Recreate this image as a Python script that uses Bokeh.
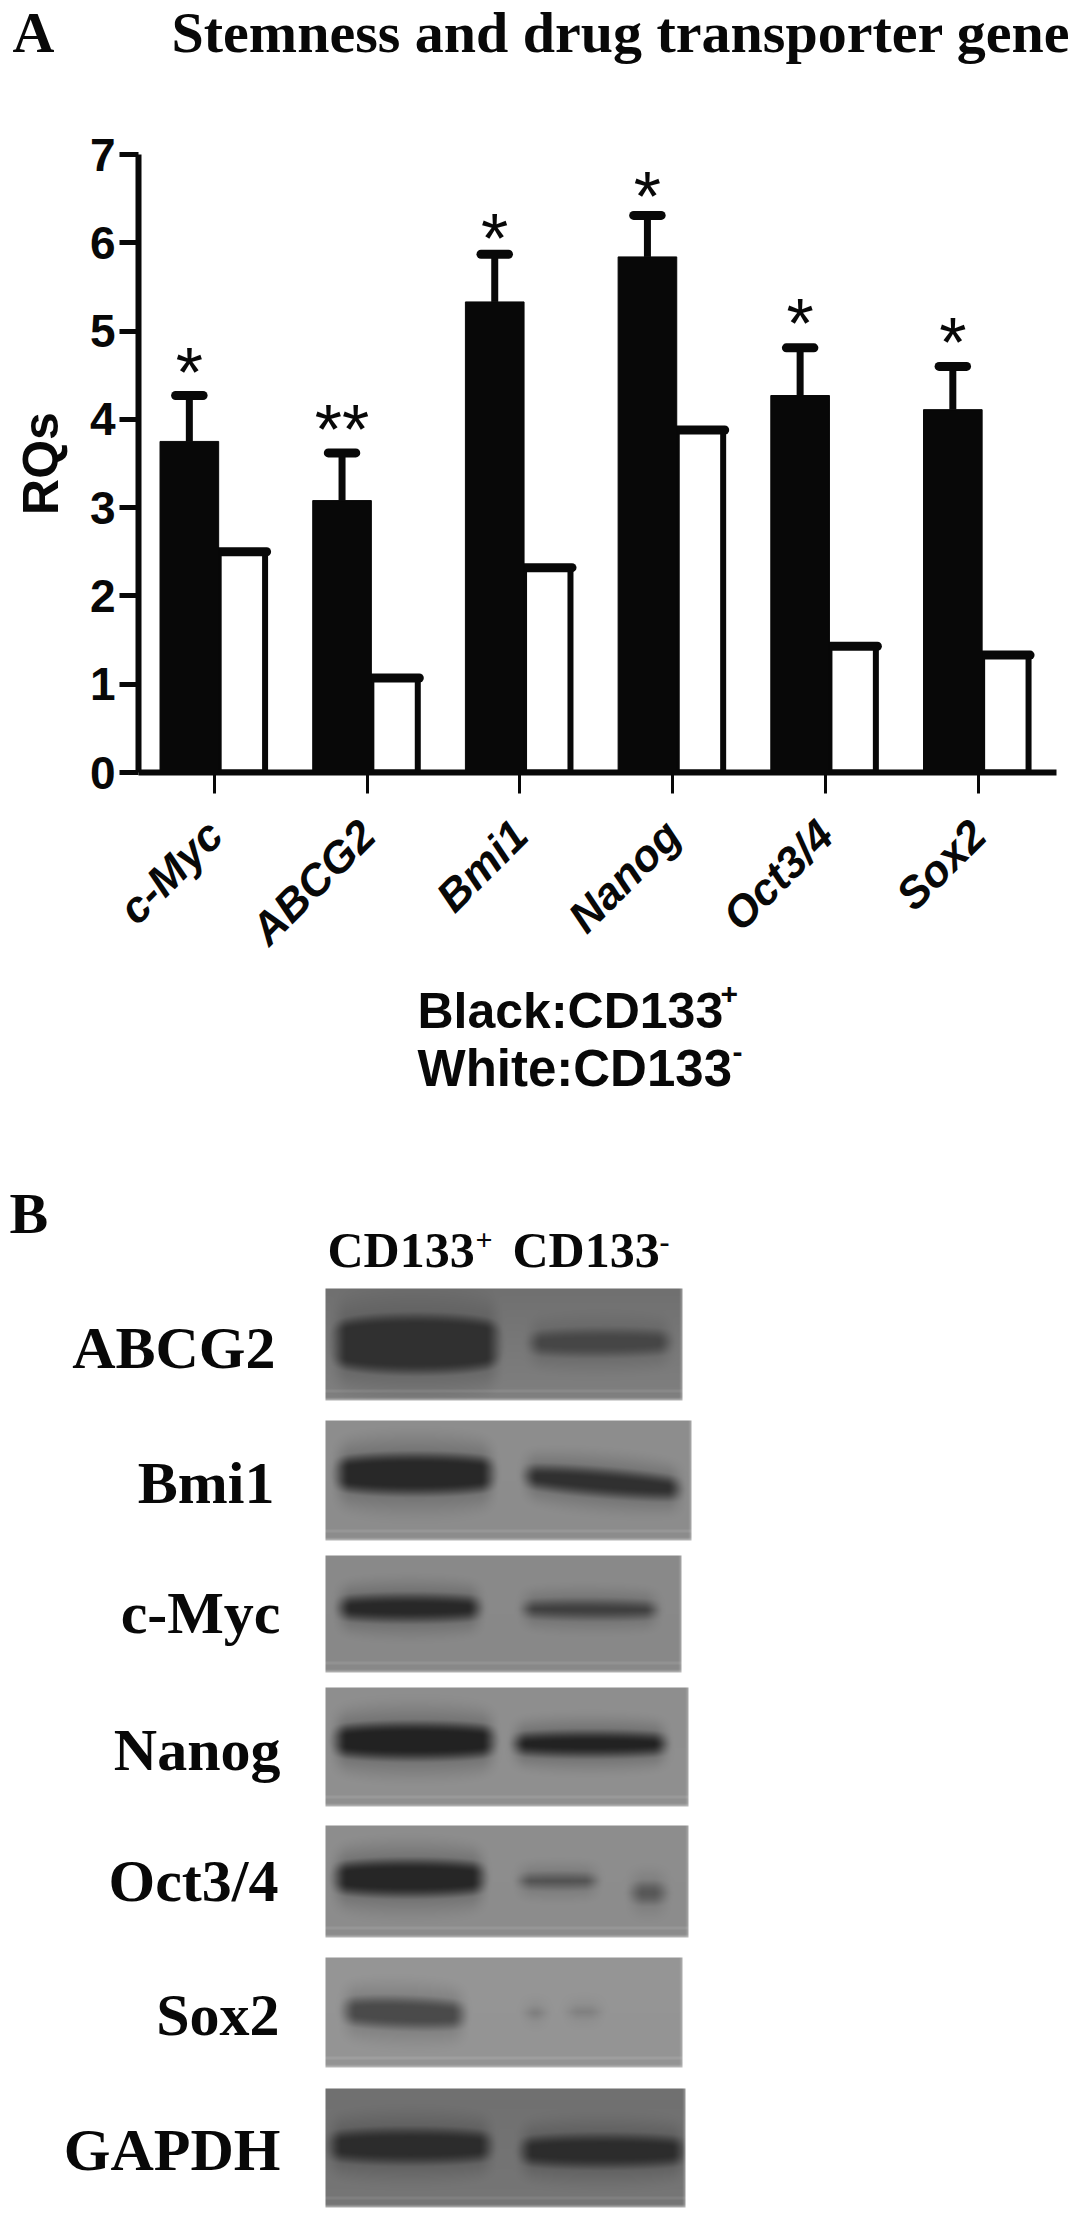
import math
import numpy as np
from bokeh.embed import file_html
from bokeh.resources import INLINE
from bokeh.plotting import figure
from bokeh.layouts import column
from bokeh.models import Range1d, FixedTicker

# ---- panel A data
genes = ["c-Myc", "ABCG2", "Bmi1", "Nanog", "Oct3/4", "Sox2"]
cd133_pos = [3.75, 3.08, 5.33, 5.84, 4.27, 4.11]
cd133_pos_err_top = [4.27, 3.62, 5.87, 6.31, 4.81, 4.60]
cd133_neg = [2.50, 1.07, 2.32, 3.88, 1.43, 1.33]
stars = ["*", "**", "*", "*", "*", "*"]
star_y = [4.66, 4.02, 6.18, 6.65, 5.22, 5.00]
y_ticks = [0, 1, 2, 3, 4, 5, 6, 7]

# ---- panel B: blot strips
blot_names = ["ABCG2", "Bmi1", "c-Myc", "Nanog", "Oct3/4", "Sox2", "GAPDH"]
blot_right = [275, 274, 280, 280, 278, 279, 280]
blot_base = [1368, 1503, 1633, 1770, 1901, 2035, 2170]
blot_box = [(325, 682, 1288, 1400), (325, 691, 1420, 1540), (325, 681, 1555, 1672),
            (325, 688, 1687, 1806), (325, 688, 1825, 1937), (325, 682, 1957, 2067),
            (325, 685, 2088, 2207)]
blot_bg = [(112, 128), (142, 140), (138, 136), (142, 144), (142, 140), (150, 148), (112, 118)]
# each band: x0, x1, y at left, y at right, half height, gray level
blot_bands = [
    [(333, 498, 1343, 1343, 30, 48), (528, 670, 1342, 1341, 14, 70)],
    [(335, 493, 1473, 1473, 21, 40), (523, 680, 1475, 1488, 14, 48)],
    [(337, 480, 1607, 1607, 14, 40), (521, 657, 1608, 1609, 10, 62)],
    [(333, 494, 1740, 1740, 19, 34), (512, 666, 1743, 1743, 13, 34)],
    [(333, 484, 1877, 1877, 19, 38), (517, 597, 1880, 1880, 8, 80), (629, 666, 1892, 1892, 11, 88)],
    [(342, 464, 2010, 2014, 16, 74), (523, 546, 2012, 2012, 6, 122), (565, 601, 2011, 2011, 6, 126)],
    [(328, 491, 2145, 2145, 18, 44), (519, 684, 2150, 2150, 17, 44)],
]
header_text = ["CD133", "CD133"]
header_x = [327, 512]
header_sup = ["+", "-"]
header_sup_x = [475, 659]
header_sup_y = [1250, 1252]


def smooth(t):
    t = np.clip(t, 0, 1)
    return t * t * (3 - 2 * t)


def strip_image(box, bg, bands):
    x0, x1, y0, y1 = box
    w, h = x1 - x0, y1 - y0
    xs = np.arange(w)[None, :] + x0
    ys = np.arange(h)[:, None] + y0
    frac = (ys - y0) / h
    gray = np.full((h, w), 0.0) + bg[0] + (bg[1] - bg[0]) * frac
    for bx0, bx1, yl, yr, half, level in bands:
        yc = yl + (yr - yl) * (xs - bx0) / (bx1 - bx0)
        u = np.clip((xs - (bx0 + bx1) / 2) / ((bx1 - bx0) / 2 + 4), -1, 1)
        half_here = half * (0.45 + 0.55 * np.sqrt(1 - u ** 2) ** 0.7)
        d = np.abs(ys - yc)
        core = smooth((half_here + 9 - d) / 20)
        mx = smooth((xs - bx0 + 8) / 22) * smooth((bx1 + 8 - xs) / 22)
        halo = smooth((2.0 * half_here + 10 - d) / (1.4 * half_here + 12)) * 0.3
        m = np.maximum(core, halo) * mx
        gray = gray + (level - gray) * m
    gray = gray + 10.0 * (np.abs(ys - (y1 - 10)) < 2)
    gray = gray + (205 - gray) * smooth((ys - (y1 - 4)) / 4) * 0.75
    gray = gray + (200 - gray) * smooth((xs - (x1 - 4)) / 4) * 0.5
    g = np.clip(gray, 0, 255).astype(np.uint32)
    img = (255 << 24) | (g << 16) | (g << 8) | g
    return img[::-1].astype(np.uint32)


SANS = "Liberation Sans"
SERIF = "Liberation Serif"
INK = "#080808"
W = 1074
TOP_H, CHART_END, PAGE_END = 100, 976, 2216


def sheet(top, bottom):
    """A plain figure whose x follows the page column and whose y is minus the page row."""
    f = figure(width=W, height=bottom - top, output_backend="svg", toolbar_location=None,
               x_range=Range1d(0, W), y_range=Range1d(-bottom, -top), min_border=0,
               outline_line_color=None, x_axis_type=None, y_axis_type=None,
               background_fill_color="white", border_fill_color="white", frame_align=False)
    f.grid.visible = False
    return f


def put(f, xs, ys, texts, font, size, align="left"):
    # ys are the rows of the letters' base; the glyph anchors on the middle of the line
    f.text(x=xs, y=[-(v - 0.34 * size) for v in ys], text=texts, text_font={"value": font},
           text_font_size=f"{size}px", text_font_style="bold", text_align=align,
           text_baseline="middle", text_color=INK)


# ---- heading
head = sheet(0, TOP_H)
put(head, [12], [52], ["A"], SERIF, 58)
put(head, [171], [52], ["Stemness and drug transporter gene"], SERIF, 58)

# ---- chart
p = figure(width=W, height=CHART_END - TOP_H, output_backend="svg", toolbar_location=None,
           x_range=Range1d(-0.498, 5.514), y_range=Range1d(0, 7),
           min_border_left=138, min_border_right=18, min_border_top=154 - TOP_H,
           min_border_bottom=CHART_END - 772, outline_line_color=None,
           background_fill_color="white", border_fill_color="white", frame_align=False)
p.grid.visible = False

x = np.arange(len(genes), dtype=float)
black_l, black_r = x - 0.357, x + 0.027
white_l, white_r = x + 0.027, x + 0.331
black_c = (black_l + black_r) / 2

p.quad(left=white_l, right=white_r, bottom=0, top=cd133_neg, fill_color="white",
       line_color=INK, line_width=6)
p.segment(x0=white_l, x1=white_r + 0.01, y0=cd133_neg, y1=cd133_neg, line_color=INK, line_width=9,
          line_cap="round")
p.segment(x0=black_c, x1=black_c, y0=cd133_pos, y1=cd133_pos_err_top, line_color=INK, line_width=7)
p.segment(x0=black_c - 0.09, x1=black_c + 0.09, y0=cd133_pos_err_top, y1=cd133_pos_err_top,
          line_color=INK, line_width=9, line_cap="round")
p.quad(left=black_l, right=black_r, bottom=0, top=cd133_pos, fill_color=INK, line_color=INK,
       line_width=1, line_join="round")
p.text(x=black_c, y=star_y, text=stars, text_font={"value": SANS}, text_font_size="70px",
       text_align="center", text_baseline="middle", text_color=INK, y_offset=12)

ax = p.yaxis[0]
ax.ticker = FixedTicker(ticks=y_ticks)
ax.axis_line_color = INK
ax.axis_line_width = 6
ax.major_tick_line_color = INK
ax.major_tick_line_width = 5
ax.major_tick_out = 19
ax.major_tick_in = 0
ax.minor_tick_line_color = None
ax.major_label_text_font = SANS
ax.major_label_text_font_style = "bold"
ax.major_label_text_font_size = "46px"
ax.major_label_text_color = INK
ax.major_label_standoff = 4
ax.axis_label = "RQs"
ax.axis_label_text_font = SANS
ax.axis_label_text_font_style = "bold"
ax.axis_label_text_font_size = "50px"
ax.axis_label_text_color = INK
ax.axis_label_standoff = 18

bx = p.xaxis[0]
bx.ticker = FixedTicker(ticks=list(x))
bx.major_label_overrides = {float(i): g for i, g in zip(x, genes)}
bx.axis_line_color = INK
bx.axis_line_width = 6
bx.major_tick_line_color = INK
bx.major_tick_line_width = 3
bx.major_tick_out = 21
bx.major_tick_in = 0
bx.minor_tick_line_color = None
bx.major_label_orientation = math.pi / 4
bx.major_label_text_font = SANS
bx.major_label_text_font_style = "bold italic"
bx.major_label_text_font_size = "44px"
bx.major_label_text_color = INK
bx.major_label_standoff = 34

# ---- key and blots
q = sheet(CHART_END, PAGE_END)
put(q, [417], [1027], ["Black:CD133"], SANS, 50)
put(q, [417], [1085], ["White:CD133"], SANS, 51)
put(q, [720, 732], [1004, 1062], ["+", "-"], SANS, 30)

for box, bg, bands in zip(blot_box, blot_bg, blot_bands):
    x0, x1, y0, y1 = box
    q.image_rgba(image=[strip_image(box, bg, bands)], x=x0, y=-y1, dw=x1 - x0, dh=y1 - y0)

put(q, blot_right, blot_base, blot_names, SERIF, 60, "right")
put(q, [9], [1233], ["B"], SERIF, 58)
put(q, header_x, [1266, 1266], header_text, SERIF, 50)
put(q, header_sup_x, header_sup_y, header_sup, SERIF, 30)

page = column(head, p, q, spacing=0)
open("out.html", "w").write(file_html(page, INLINE))
